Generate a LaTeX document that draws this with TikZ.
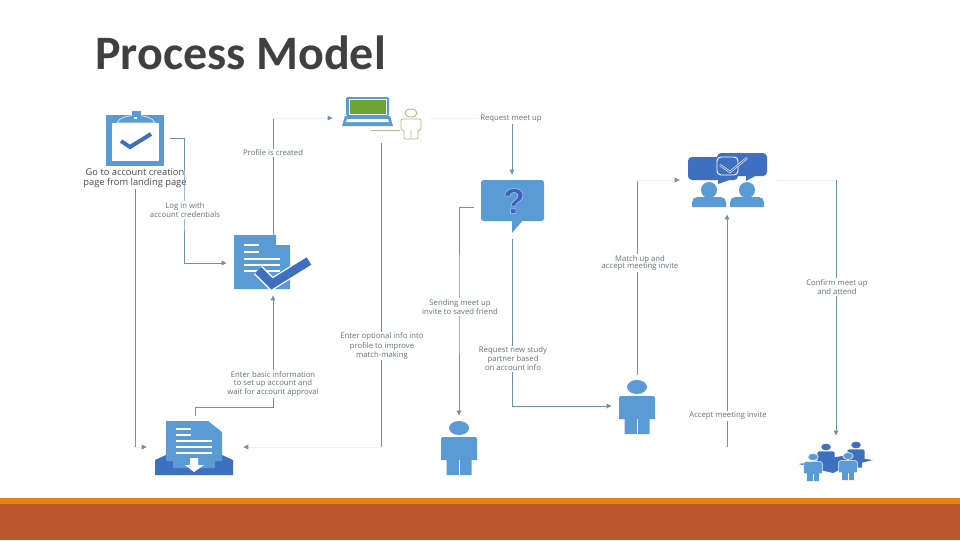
\documentclass[tikz,border=0pt]{standalone}
\usepackage{fontspec}
\setmainfont{Open Sans}
\newfontfamily\titlefont{Carlito}
\newfontfamily\markfont[FakeBold=1.2]{Liberation Sans}
\usetikzlibrary{arrows.meta}

\definecolor{iconblue}{HTML}{5B9BD5}
\definecolor{darkblue}{HTML}{3F6FBF}
\definecolor{linkblue}{HTML}{6C90B0}
\definecolor{faintblue}{HTML}{EEF2F6}
\definecolor{labelgray}{HTML}{667078}
\definecolor{usergreen}{HTML}{A9C08A}
\definecolor{screengreen}{HTML}{6BA533}
\definecolor{bandorange}{HTML}{E48312}
\definecolor{bandbrown}{HTML}{BD582C}

\tikzset{
    iconbox/.style={inner sep=0pt, outer sep=0pt},
    link/.style={draw=linkblue, line width=.75pt},
    arrowlink/.style={link, -{Latex[length=4pt,width=4pt]}},
    faintlink/.style={draw=faintblue, line width=.6pt},
    faintarrow/.style={faintlink, -{Latex[length=4pt,width=4pt,color=linkblue]}},
    steplabel/.style={fill=white, inner sep=1pt, align=center, text=labelgray, yshift=-.75pt,
        font=\fontsize{5.8}{5.7}\selectfont},
    person/.pic={
        \path[pic actions] (0,0) ellipse [x radius=10, y radius=7];
        \path[pic actions, rounded corners=1.5pt] (-18,32) -- (-18,9) -- (18,9) [sharp corners] -- (18,32)
            -- (12.5,32) -- (12.5,47) -- (-12.5,47) -- (-12.5,32) -- cycle;
        \draw[white, line width=.5pt] (0,32) -- (0,47);
    },
    talker/.pic={
        \fill[iconblue] (0,0) circle (8);
        \fill[iconblue, rounded corners=4pt] (-17,17) -- (-17,7) -- (17,7) [sharp corners] -- (17,17) -- cycle;
    }
}

\begin{document}
\begin{tikzpicture}[x=.75pt, y=-.75pt]
\useasboundingbox (0,0) rectangle (960,540);
\fill[white] (0,0) rectangle (960,540);
\fill[bandorange] (0,498) rectangle (960,504);
\fill[bandbrown] (0,504) rectangle (960,540);

\node[anchor=west, text=black!75, font=\titlefont\bfseries\fontsize{36}{38}\selectfont] (title) at (90.5,53) {Process Model};

\node[iconbox, minimum width=52.5pt, minimum height=45pt] (clipboard) at (135,138) {};
\node[iconbox, minimum width=69pt, minimum height=42pt] (doc) at (273,263) {};
\node[iconbox, minimum width=72pt, minimum height=37.5pt] (laptop) at (381,118) {};
\node[iconbox, minimum width=16.5pt, minimum height=24pt] (user) at (411,130) {};
\node[iconbox, minimum width=57pt, minimum height=48pt] (question) at (512,207) {};
\node[iconbox, minimum width=72pt, minimum height=46.5pt] (tray) at (195,447) {};
\node[iconbox, minimum width=30pt, minimum height=45pt] (friend) at (459,446) {};
\node[iconbox, minimum width=37.5pt, minimum height=46.5pt] (partner) at (637,406) {};
\node[iconbox, minimum width=71.25pt, minimum height=51pt] (meeting) at (727.5,180) {};
\node[iconbox, minimum width=60pt, minimum height=37.5pt] (team) at (836,461) {};
\coordinate (laptopfoot) at (371,130);
\coordinate (acceptstart) at (727,447);

\fill[iconblue] (106,115) rectangle (164,166);
\fill[white] (112,123) rectangle (159,161);
\filldraw[draw=white, fill=iconblue] (117,123) .. controls (120,113) and (152,113) .. (155,123) -- cycle;
\fill[iconblue] (132,111) rectangle (141,116);
\fill[white] (134,117) rectangle (137,119);
\draw[darkblue, line width=3pt] (121,141) -- (130,147) -- (151,134);

\fill[iconblue] (234,235) -- (276,235) -- (276,245) -- (290,245) -- (290,289) -- (234,289) -- cycle;
\foreach \y in {245,252} \draw[white, line width=.8pt] (244,\y) -- (259,\y);
\foreach \y in {259,265,271} \draw[white, line width=.8pt] (244,\y) -- (280,\y);
\draw[white, line width=8.5pt] (258,270) -- (272,284) -- (309,261);
\draw[darkblue, line width=6.5pt] (258,270) -- (272,284) -- (309,261);

\fill[iconblue, rounded corners=1pt] (346,97) rectangle (389,116);
\filldraw[draw=white, fill=screengreen, line width=.6pt] (349,99) rectangle (386,114);
\fill[iconblue] (345,116) -- (390,116) -- (393,126) -- (342,126) -- cycle;
\fill[white] (347,119) -- (388,119) -- (389,122) -- (346,122) -- cycle;
\draw[usergreen, line width=.7pt] (411,113) ellipse [x radius=6, y radius=4];
\draw[usergreen, line width=.7pt, rounded corners=1pt] (404,130) -- (401,130) -- (401,119) -- (421,119) -- (421,130) -- (418,130)
    -- (418,139) -- (404,139) -- cycle (411,130) -- (411,139);
\draw[usergreen, line width=.7pt] (laptopfoot) -- (laptopfoot -| user.west);

\fill[iconblue, rounded corners=2pt] (481,180) rectangle (544,221);
\fill[iconblue] (512,219) -- (524,219) -- (512,233) -- cycle;
\node[iconbox, font=\markfont\bfseries\fontsize{27}{28}\selectfont] (mark) at (514,201)
    {\special{pdf:bcolor [0.25 0.38 0.72] [0.72 0.85 0.98]}?\special{pdf:ecolor}};

\fill[darkblue] (155,460) -- (166,455) -- (222,455) -- (233,460) -- (233,475) -- (155,475) -- cycle;
\fill[iconblue] (166,421) -- (208,421) -- (222,432) -- (222,461) -- (215,461) -- (215,468) -- (173,468) -- (173,461) -- (166,461) -- cycle;
\foreach \y in {429,435} \draw[white, line width=.8pt] (176,\y) -- (191,\y);
\foreach \y in {441,447,453} \draw[white, line width=.8pt] (176,\y) -- (212,\y);
\fill[white] (190,458) -- (198,458) -- (198,465) -- (204,465) -- (194,472) -- (185,465) -- (190,465) -- cycle;

\path (459,428) pic[fill=iconblue] {person};
\path (637,387) pic[fill=iconblue] {person};

\fill[darkblue, rounded corners=3pt] (688,157) rectangle (738,180);
\fill[darkblue] (718,178) -- (735,178) -- (718,184) -- cycle;
\fill[darkblue, rounded corners=3pt] (717,153) rectangle (767,176);
\fill[darkblue] (746,174) -- (759,174) -- (746,181) -- cycle;
\draw[white, line width=.7pt, rounded corners=3pt] (717,157) rectangle (738,175);
\draw[white, line width=1.6pt] (720,165) -- (730,172) -- (747,158);
\draw[darkblue, line width=.7pt] (720,165) -- (730,172) -- (747,158);
\path (709,190) pic {talker};
\path (747,190) pic {talker};

\path (826,447) pic[fill=darkblue, scale=.48] {person};
\path (856,445) pic[fill=darkblue, scale=.48] {person};
\fill[darkblue] (799,464) -- (842,456) -- (873,460) -- (848,466) -- (833,473) -- (820,470) -- cycle;
\path (813,457) pic[fill=iconblue, draw=white, line width=.4pt, scale=.52] {person};
\path (848,456) pic[fill=iconblue, draw=white, line width=.4pt, scale=.52] {person};

\draw[link] (clipboard.south) -- (clipboard.south |- tray.west);
\draw[faintarrow] (clipboard.south |- tray.west) -- (tray.west);
\node[steplabel, text=black!70, font=\fontsize{7}{7.5}\selectfont] (createlabel) at (135,177) {Go to account creation\\page from landing page};
\draw[arrowlink] (clipboard.east) -| (184,200) |- (doc.west);
\draw[arrowlink, shorten >=3pt] (tray.north) |- (273,407) -- (doc.south);
\draw[link] (doc.north) -- (doc.north |- laptop.west);
\draw[faintarrow] (doc.north |- laptop.west) -- (laptop.west);
\draw[link] (laptop.south) -- (laptop.south |- tray.east);
\draw[faintarrow] (laptop.south |- tray.east) -- (tray.east);
\draw[faintlink] (laptop.east) -- (laptop.east -| question.north);
\draw[arrowlink] (laptop.east -| question.north) -- (question.north);
\draw[arrowlink] (question.west) -| (459,300) -- (friend.north);
\draw[arrowlink] (question.south) |- (partner.west);
\draw[link] (partner.north) -- (partner.north |- meeting.west);
\draw[faintarrow] (partner.north |- meeting.west) -- (meeting.west);
\draw[arrowlink] (acceptstart) -- (acceptstart |- meeting.south);
\draw[faintlink] (meeting.east) -- (meeting.east -| team.north);
\draw[arrowlink] (meeting.east -| team.north) -- (team.north);

\node[steplabel] (loginlabel) at (185,209) {Log in with\\account credentials};
\node[steplabel] (profilelabel) at (273,152) {Profile is created};
\node[steplabel] (basiclabel) at (273,383) {Enter basic information\\to set up account and\\wait for account approval};
\node[steplabel] (optionallabel) at (382,345) {Enter optional info into\\profile to improve\\match-making};
\node[steplabel] (requestlabel) at (511,118) {Request meet up};
\node[steplabel] (sendlabel) at (460,306) {Sending meet up\\invite to saved friend};
\node[steplabel] (newlabel) at (513,358) {Request new study\\partner based\\on account info};
\node[steplabel] (matchlabel) at (640,262) {Match up and\\accept meeting invite};
\node[steplabel] (acceptlabel) at (728,415) {Accept meeting invite};
\node[steplabel] (confirmlabel) at (837,286) {Confirm meet up\\and attend};
\end{tikzpicture}
\end{document}
